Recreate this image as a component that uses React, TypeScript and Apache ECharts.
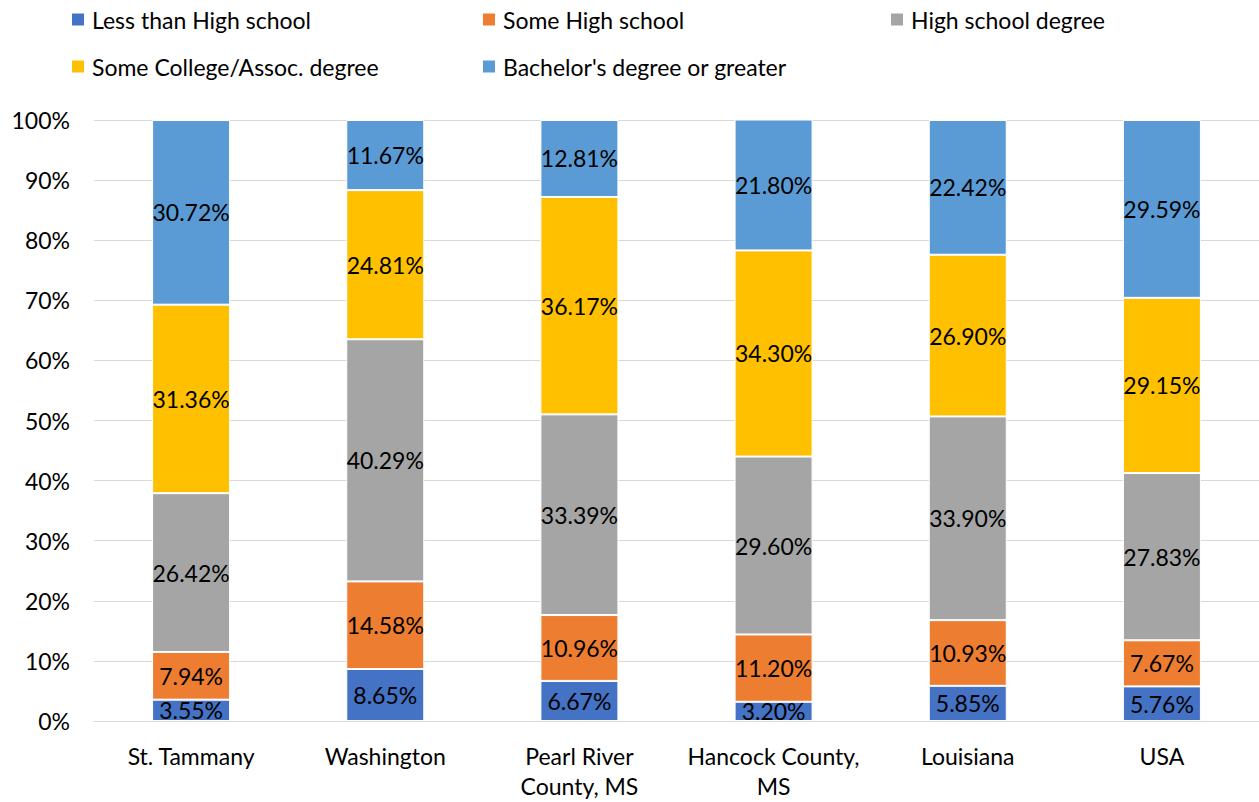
import React, { useEffect, useRef } from "react";
import * as echarts from "echarts";

const categories = [
  "St. Tammany",
  "Washington",
  "Pearl River\nCounty, MS",
  "Hancock County,\nMS",
  "Louisiana",
  "USA",
];

const seriesNames = [
  "Less than High school",
  "Some High school",
  "High school degree",
  "Some College/Assoc. degree",
  "Bachelor's degree or greater",
];

const lessThanHS = [3.55, 8.65, 6.67, 3.2, 5.85, 5.76];
const someHS = [7.94, 14.58, 10.96, 11.2, 10.93, 7.67];
const hsDegree = [26.42, 40.29, 33.39, 29.6, 33.9, 27.83];
const someCollege = [31.36, 24.81, 36.17, 34.3, 26.9, 29.15];
const bachelors = [30.72, 11.67, 12.81, 21.8, 22.42, 29.59];

const yTicks = [0, 10, 20, 30, 40, 50, 60, 70, 80, 90, 100];

const colors = ["#4472C4", "#ED7D31", "#A5A5A5", "#FFC000", "#5B9BD5"];
const FONT = "Lato, 'Open Sans', sans-serif";
const FS = 23;

export default function App() {
  const ref = useRef<HTMLDivElement>(null);

  useEffect(() => {
    if (!ref.current) return;
    const chart = echarts.init(ref.current, undefined, { renderer: "svg" });
    const values = [lessThanHS, someHS, hsDegree, someCollege, bachelors];

    // legend positions: two rows, three columns
    const legendPos = [
      { left: 70, top: 8 },
      { left: 481, top: 8 },
      { left: 889, top: 8 },
      { left: 70, top: 55 },
      { left: 481, top: 55 },
    ];

    chart.setOption({
      animation: false,
      color: colors,
      textStyle: { fontFamily: FONT },
      legend: seriesNames.map((name, i) => ({
        data: [name],
        left: legendPos[i].left,
        top: legendPos[i].top,
        padding: 0,
        itemWidth: 14,
        itemHeight: 14,
        itemGap: 0,
        icon: "rect",
        selectedMode: false,
        textStyle: { fontSize: FS, color: "#000", fontFamily: FONT, padding: [0, 0, 0, 2] },
      })),
      grid: { left: 94, right: 0, top: 120, bottom: 81 },
      xAxis: {
        type: "category",
        data: categories,
        axisLine: { show: true, lineStyle: { color: "#D9D9D9", width: 1 } },
        axisTick: { show: false },
        axisLabel: {
          color: "#000",
          fontSize: FS,
          fontFamily: FONT,
          margin: 20,
          lineHeight: 30,
          interval: 0,
        },
      },
      yAxis: {
        type: "value",
        min: 0,
        max: 100,
        interval: 10,
        axisLine: { show: false },
        axisTick: { show: false },
        splitLine: { lineStyle: { color: "#D9D9D9", width: 1 } },
        axisLabel: {
          color: "#000",
          fontSize: FS,
          fontFamily: FONT,
          margin: 24,
          formatter: (v: number) => (yTicks.includes(v) ? `${v}%` : ""),
        },
      },
      series: seriesNames.map((name, i) => ({
        name,
        type: "bar",
        stack: "total",
        barWidth: 78,
        data: values[i],
        itemStyle: { color: colors[i], borderColor: "#fff", borderWidth: 1 },
        label: {
          show: true,
          position: "inside",
          color: "#000",
          fontSize: FS,
          fontFamily: FONT,
          formatter: (p: any) => `${p.value.toFixed(2)}%`,
        },
      })),
    });

    return () => chart.dispose();
  }, []);

  return (
    <div
      ref={ref}
      style={{ position: "fixed", left: 0, top: 0, width: 1259, height: 802, background: "#fff" }}
    />
  );
}
